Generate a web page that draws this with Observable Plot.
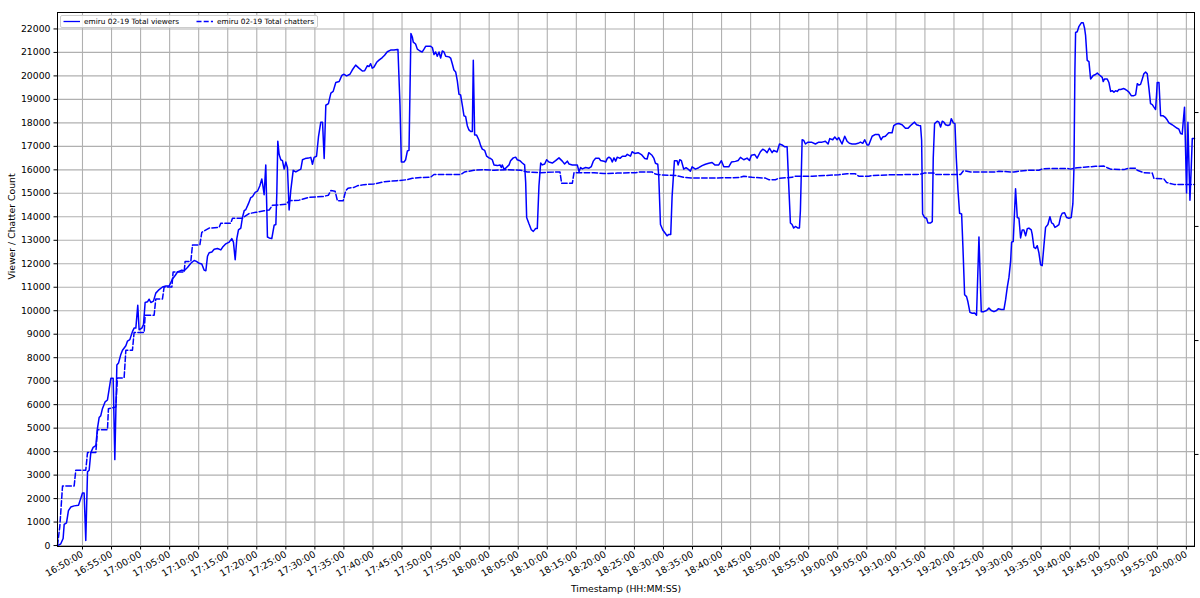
<!DOCTYPE html>
<html>
<head>
<meta charset="utf-8">
<script src="https://cdn.jsdelivr.net/npm/d3@7"></script>
<script src="https://cdn.jsdelivr.net/npm/@observablehq/plot@0.6"></script>
<style>
  html, body { margin: 0; padding: 0; background: #fff; }
  #wrap { position: relative; width: 1200px; height: 598px; overflow: hidden; font-family: "DejaVu Sans", sans-serif; }
  #legend { position: absolute; left: 60px; top: 15px; width: 258px; height: 13px; box-sizing: border-box;
            border: 1px solid #cccccc; border-radius: 2px; background: rgba(255,255,255,0.85);
            font-size: 7.35px; color: #000; }
  #legend .item { position: absolute; top: 0; height: 11px; line-height: 11px; white-space: nowrap; }
  #legend svg { position: absolute; top: 0; }
</style>
</head>
<body>
<div id="wrap">
  <div id="chart"></div>
  <div id="legend"></div>
</div>
<script>
// ---------- data ----------
const seriesNames = ["emiru 02-19 Total viewers", "emiru 02-19 Total chatters"];

const viewerTimes = [
"16:45:42","16:46:16","16:46:40","16:46:51","16:47:15","16:47:35","16:47:59","16:48:34","16:49:19","16:49:43",
"16:50:00","16:50:17","16:50:34","16:50:52","16:51:09","16:51:26","16:51:50","16:52:18","16:52:35","16:52:52",
"16:53:09","16:53:26","16:53:54","16:54:18","16:54:35","16:54:53","16:55:17","16:55:34","16:55:55","16:56:12",
"16:56:36","16:56:53","16:57:28","16:57:45","16:58:09","16:58:36","16:58:53","16:59:11","16:59:31","16:59:45",
"17:00:13","17:00:30","17:00:47","17:01:11","17:01:28","17:01:46","17:02:13","17:02:37","17:03:12","17:03:46",
"17:04:21","17:04:55","17:05:29","17:05:57","17:06:21","17:07:06","17:07:30","17:08:04","17:08:39","17:09:13",
"17:09:37","17:10:05","17:10:32","17:10:56","17:11:14","17:11:31","17:11:48","17:12:16","17:12:40","17:13:14",
"17:13:49","17:14:06","17:14:40","17:15:15","17:15:42","17:15:59","17:16:17","17:16:34","17:16:51","17:17:15",
"17:17:32","17:17:50","17:18:07","17:18:34","17:18:58","17:19:16","17:19:43","17:20:07","17:20:31","17:20:52",
"17:21:06","17:21:16","17:21:33","17:21:44","17:21:50","17:22:08","17:22:35","17:22:59","17:23:17","17:23:27",
"17:23:37","17:23:51","17:24:08","17:24:25","17:24:43","17:25:00","17:25:17","17:25:34","17:25:52","17:26:16",
"17:26:43","17:27:11","17:27:35","17:27:52","17:28:19","17:28:54","17:29:18","17:29:35","17:29:52","17:30:17",
"17:30:37","17:31:01","17:31:19","17:31:36","17:31:53","17:32:20","17:32:45","17:33:09","17:33:36","17:34:11",
"17:34:38","17:35:01","17:35:28","17:36:02","17:36:26","17:37:01","17:37:35","17:38:10","17:38:34","17:39:01",
"17:39:19","17:39:36","17:39:53","17:40:10","17:40:38","17:41:02","17:41:36","17:42:00","17:42:28","17:43:02",
"17:43:37","17:44:11","17:44:18","17:44:39","17:44:53","17:45:20","17:45:37","17:45:55","17:46:12","17:46:32",
"17:46:46","17:46:56","17:47:20","17:47:38","17:48:05","17:48:29","17:48:47","17:49:04","17:49:28","17:49:56",
"17:50:13","17:50:30","17:50:47","17:51:04","17:51:22","17:51:39","17:51:56","17:52:13","17:52:31","17:53:05",
"17:53:22","17:53:39","17:53:56","17:54:14","17:54:31","17:54:48","17:55:05","17:55:23","17:55:40","17:55:57",
"17:56:14","17:56:31","17:56:49","17:57:06","17:57:16","17:57:30","17:57:50","17:58:15","17:58:32","17:58:49",
"17:59:13","17:59:34","17:59:58","18:00:15","18:00:32","18:00:50","18:01:24","18:01:52","18:02:05","18:02:16",
"18:02:33","18:02:50","18:03:25","18:03:41","18:04:09","18:04:33","18:04:50","18:05:18","18:05:42","18:06:06",
"18:06:17","18:06:27","18:06:51","18:07:15","18:07:36","18:08:00","18:08:17","18:08:34","18:08:52","18:09:09",
"18:09:33","18:09:53","18:10:17","18:10:52","18:11:26","18:12:01","18:12:35","18:12:59","18:13:27","18:13:44",
"18:14:19","18:14:53","18:15:10","18:15:28","18:15:44","18:16:02","18:16:36","18:17:11","18:17:35","18:17:55",
"18:18:19","18:18:54","18:19:11","18:19:46","18:20:03","18:20:20","18:20:37","18:20:55","18:21:11","18:21:29",
"18:21:46","18:22:03","18:22:31","18:22:55","18:23:29","18:23:46","18:24:19","18:24:36","18:25:03","18:25:38",
"18:26:12","18:26:47","18:27:11","18:27:28","18:28:02","18:28:20","18:28:37","18:29:01","18:29:11","18:29:29",
"18:29:53","18:30:20","18:30:37","18:30:55","18:31:15","18:31:29","18:31:53","18:32:20","18:32:31","18:32:48",
"18:33:05","18:33:29","18:33:53","18:34:21","18:34:38","18:34:56","18:35:30","18:36:04","18:36:39","18:37:13",
"18:37:48","18:38:22","18:38:50","18:39:31","18:39:58","18:40:23","18:40:40","18:41:14","18:41:42","18:42:23",
"18:42:51","18:43:15","18:43:49","18:44:23","18:44:48","18:45:08","18:45:43","18:46:07","18:46:41","18:47:05",
"18:47:26","18:47:50","18:48:14","18:48:42","18:48:59","18:49:33","18:49:58","18:50:25","18:50:52","18:51:17",
"18:51:34","18:51:51","18:52:08","18:52:25","18:52:43","18:53:10","18:53:24","18:53:34","18:53:52","18:54:09",
"18:54:26","18:54:53","18:55:28","18:56:09","18:56:44","18:57:18","18:57:52","18:58:20","18:58:37","18:59:08",
"18:59:29","18:59:53","19:00:10","19:00:44","19:01:12","19:01:36","19:02:00","19:02:28","19:03:02","19:03:30",
"19:03:54","19:04:18","19:04:38","19:05:03","19:05:20","19:05:55","19:06:29","19:07:03","19:07:27","19:07:45",
"19:08:12","19:08:46","19:09:21","19:09:38","19:10:02","19:10:30","19:11:04","19:11:39","19:12:06","19:12:30",
"19:12:54","19:13:13","19:13:34","19:13:58","19:14:15","19:14:26","19:14:36","19:14:57","19:15:17","19:15:31",
"19:15:59","19:16:16","19:16:26","19:16:40","19:17:07","19:17:25","19:17:42","19:17:59","19:18:16","19:18:33",
"19:18:58","19:19:18","19:19:32","19:19:53","19:20:10","19:20:24","19:20:41","19:20:58","19:21:19","19:21:32",
"19:21:50","19:22:10","19:22:24","19:22:45","19:23:09","19:23:33","19:23:53","19:24:18","19:24:42","19:25:09",
"19:25:37","19:26:01","19:26:25","19:26:53","19:27:20","19:27:37","19:28:08","19:28:36","19:28:53","19:29:10",
"19:29:28","19:29:45","19:29:55","19:30:12","19:30:26","19:30:36","19:30:54","19:31:11","19:31:28","19:31:45",
"19:32:02","19:32:20","19:32:37","19:32:54","19:33:18","19:33:28","19:33:46","19:34:03","19:34:20","19:34:37",
"19:34:55","19:35:11","19:35:29","19:35:46","19:36:10","19:36:31","19:36:48","19:37:05","19:37:23","19:37:40",
"19:38:04","19:38:21","19:38:38","19:39:02","19:39:23","19:39:47","19:40:11","19:40:28","19:40:39","19:40:49",
"19:40:56","19:41:13","19:41:31","19:41:55","19:42:15","19:42:29","19:42:39","19:42:56","19:43:14","19:43:31",
"19:43:58","19:44:22","19:44:40","19:45:07","19:45:31","19:45:41","19:45:55","19:46:23","19:46:40","19:46:58",
"19:47:14","19:47:32","19:47:49","19:48:06","19:48:23","19:48:41","19:49:15","19:49:32","19:49:50","19:50:07",
"19:50:31","19:50:58","19:51:16","19:51:33","19:51:50","19:52:07","19:52:25","19:52:41","19:52:59","19:53:16",
"19:53:33","19:53:50","19:54:08","19:54:25","19:54:42","19:54:52","19:54:59","19:55:17","19:55:34","19:56:01",
"19:56:25","19:56:43","19:57:00","19:57:34","19:58:08","19:58:26","19:58:43","19:59:00","19:59:17","19:59:28",
"19:59:41","19:59:52","20:00:02","20:00:16","20:00:26","20:00:37","20:00:50","20:01:01","20:01:24"
];
const viewerValues = [
0,75,300,900,970,1490,1640,1690,1720,2020,
2240,2240,220,3140,3210,3960,4180,4260,5000,5450,
5530,5830,6120,6200,6650,7120,7120,3660,7690,7770,
8140,8320,8510,8710,8770,9110,9260,9260,10230,9190,
9260,9410,10350,10380,10490,10350,10410,10750,10900,11010,
11050,11050,11350,11500,11650,11730,11700,11840,12020,12140,
12100,12020,11990,11730,11700,12320,12470,12500,12620,12650,
12590,12700,12850,12920,13070,12920,12170,13070,13440,13520,
13970,14260,14310,14560,14820,14860,15040,15090,15310,15610,
15240,14940,16210,14260,13140,13100,13070,13640,13670,15010,
17220,16650,16430,16390,16030,16330,16090,14290,15160,15980,
15910,15980,16030,16430,16480,16500,16530,16240,16530,16580,
17400,18030,18030,16480,18750,18820,19270,19340,19720,19760,
20020,20070,20000,20070,20250,20460,20330,20210,20220,20430,
20400,20520,20330,20370,20580,20670,20780,20880,21030,21100,
21100,21120,21120,18760,16330,16330,16430,16800,16830,21810,
21660,21440,21360,21140,21060,21020,21140,21260,21260,21260,
21210,20910,21020,20840,21020,20760,21060,21020,20840,20810,
20760,20520,20250,20170,19790,19220,19190,18740,18300,18270,
17880,17700,17630,17630,20670,17480,17480,17260,17030,16880,
16830,16580,16510,16480,16430,16210,16180,16210,16100,16210,
16020,16070,16210,16390,16510,16540,16430,16390,16290,16210,
15460,13970,13700,13450,13380,13500,13500,15310,16290,16210,
16250,16430,16330,16290,16390,16510,16370,16250,16370,16250,
16210,16210,16210,15920,16100,16040,16100,16070,16140,16370,
16490,16490,16400,16370,16330,16490,16540,16490,16330,16510,
16370,16540,16490,16580,16580,16660,16580,16770,16700,16730,
16650,16480,16460,16730,16620,16500,16280,16240,15760,13670,
13440,13290,13190,13250,13250,14860,16390,16390,16210,16430,
16390,16030,16090,16010,15940,16130,16030,16090,16180,16240,
16280,16310,16210,16210,16390,16130,16130,16130,16330,16360,
16400,16530,16430,16500,16400,16620,16650,16500,16770,16880,
16830,16730,16920,16730,16830,16760,17100,17060,16980,16980,
15310,13740,13670,13520,13590,13520,13520,14260,17280,17250,
17100,17180,17180,17100,17180,17180,17220,17100,17330,17280,
17400,17280,17370,17100,17430,17220,17130,17100,17100,17130,
17180,17130,17280,17060,17060,17430,17510,17510,17280,17400,
17430,17580,17580,17880,17950,17970,17920,17770,17770,17880,
17970,18030,17920,17890,17880,17250,14120,13970,13940,13740,
13740,13790,16500,17970,18070,18030,17820,18070,18030,17920,
17890,17920,18180,18000,17970,16500,15160,14150,14120,12770,
10680,10600,10380,9930,9890,9900,9810,13140,9960,9960,
10010,10110,10010,9960,10010,10080,10050,10050,10460,10980,
11430,12100,12920,12950,14260,15190,13970,13940,13100,13440,
13440,13190,13490,13520,13440,13250,12700,12650,12770,12470,
11950,11920,12770,13550,13670,14000,13740,13700,13550,13590,
13670,14000,14150,14170,13970,13940,13970,14560,16060,20240,
21850,21880,22110,22260,22260,22030,21730,20660,20610,19870,
20020,20060,20120,20020,19940,19760,19870,19870,19720,19340,
19370,19310,19370,19340,19420,19420,19460,19420,19370,19310,
19160,19160,19190,19670,19610,19640,19870,20090,20160,20090,
19490,18820,18780,18670,18570,19190,19720,19720,18300,18300,
18220,18120,18000,17920,17820,17770,17730,17550,17520,18070,
18670,16800,15010,18030,16360,14710,16060,17330,17330
];

const chatterTimes = [
"16:45:42","16:46:06","16:46:34","16:48:34","16:48:51","16:50:34","16:50:52","16:52:18","16:52:35","16:54:18",
"16:54:28","16:55:44","16:56:01","16:57:10","16:57:28","16:58:36","16:58:53","17:00:37","17:00:47","17:02:20",
"17:02:37","17:03:46","17:04:03","17:05:23","17:05:36","17:07:30","17:07:40","17:08:39","17:08:56","17:10:12",
"17:10:32","17:11:48","17:13:31","17:13:49","17:15:32","17:15:49","17:17:32","17:17:50","17:18:41","17:19:50",
"17:21:16","17:22:08","17:22:42","17:25:00","17:25:34","17:27:17","17:29:01","17:31:19","17:32:20","17:32:45",
"17:33:29","17:33:53","17:34:52","17:35:18","17:35:42","17:36:44","17:37:18","17:38:27","17:40:10","17:41:54",
"17:44:11","17:45:55","17:46:46","17:48:12","17:49:56","17:50:30","17:53:22","17:55:05","17:55:47","17:57:23",
"17:59:06","18:00:50","18:03:07","18:05:25","18:06:34","18:08:52","18:11:44","18:12:11","18:12:28","18:14:19",
"18:14:36","18:15:44","18:18:02","18:19:46","18:22:03","18:25:10","18:26:02","18:28:02","18:28:37","18:29:11",
"18:32:04","18:33:29","18:34:56","18:37:48","18:42:58","18:43:49","18:45:15","18:47:33","18:48:07","18:49:16",
"18:49:51","18:52:08","18:52:43","18:55:35","18:57:52","19:00:10","19:01:36","19:03:02","19:03:37","19:05:20",
"19:05:55","19:09:21","19:12:32","19:13:41","19:14:32","19:14:50","19:16:33","19:16:50","19:21:08","19:21:36",
"19:22:00","19:22:52","19:25:09","19:27:10","19:27:44","19:29:45","19:30:19","19:31:28","19:32:37","19:34:37",
"19:35:11","19:36:38","19:39:30","19:40:04","19:41:13","19:42:22","19:44:22","19:45:49","19:46:23","19:46:58",
"19:49:15","19:50:07","19:51:16","19:51:33","19:52:41","19:54:08","19:54:25","19:56:08","19:56:36","19:57:51",
"19:59:35","20:01:24"
];
const chatterValues = [
0,820,2540,2540,3210,3210,3960,3960,4930,4930,
5830,5900,7140,7140,8320,8320,9070,9070,9810,9810,
10500,10500,11010,11010,11650,11650,12100,12100,12800,12800,
13340,13520,13550,13730,13730,13940,13940,14000,14140,14190,
14260,14290,14490,14530,14680,14710,14830,14860,14920,15120,
15090,14680,14680,15100,15220,15250,15320,15370,15400,15490,
15540,15580,15640,15670,15690,15800,15800,15800,15910,15980,
16010,15980,16010,15980,15910,15880,15910,15910,15430,15430,
15880,15880,15880,15840,15860,15880,15910,15910,15820,15790,
15760,15680,15650,15650,15670,15730,15680,15650,15580,15580,
15640,15680,15730,15730,15760,15790,15830,15830,15730,15730,
15760,15790,15800,15800,15830,15860,15860,15800,15800,15950,
15950,15910,15910,15910,15940,15910,15910,15950,15980,15980,
16040,16060,16060,16030,16090,16110,16150,16160,16090,16030,
16010,16070,16070,15980,15880,15860,15640,15610,15460,15380,
15380,15380
];

// axis ticks / domain
const xTickTimes = d3.range(0, 39).map(i => {
  const m = 16 * 60 + 50 + i * 5;
  return `${String(Math.floor(m / 60)).padStart(2, "0")}:${String(m % 60).padStart(2, "0")}:00`;
});
const yTicks = d3.range(0, 22001, 1000);
const xDomainTimes = ["16:45:42", "20:01:24"];
const yDomain = [-40, 22700];
const rightTicks = [18440, 13590, 8730, 3880];   // unlabelled ticks of the secondary (right) axis
const xLabel = "Timestamp (HH:MM:SS)";
const yLabel = "Viewer / Chatter Count";

// ---------- build ----------
const parse = s => new Date(`2024-02-19T${s}Z`);
const viewers = viewerTimes.map((t, i) => ({time: parse(t), value: viewerValues[i]}));
const chatters = chatterTimes.map((t, i) => ({time: parse(t), value: chatterValues[i]}));
const xTicks = xTickTimes.map(parse);
const fmt = d3.utcFormat("%H:%M:%S");
const blue = "#0000ff";
const gridColor = "#b0b0b0";

const chart = Plot.plot({
  width: 1200,
  height: 598,
  marginLeft: 57,
  marginRight: 6,
  marginTop: 12,
  marginBottom: 52,
  style: {fontFamily: "DejaVu Sans, sans-serif", fontSize: "9.3px", background: "white", color: "#000", overflow: "visible"},
  x: {type: "utc", domain: xDomainTimes.map(parse)},
  y: {domain: yDomain},
  marks: [
    Plot.gridX(xTicks, {stroke: gridColor, strokeOpacity: 1, strokeWidth: 1.1}),
    Plot.gridY(yTicks, {stroke: gridColor, strokeOpacity: 1, strokeWidth: 1.1}),
    Plot.line(viewers, {x: "time", y: "value", stroke: blue, strokeWidth: 1.5, strokeLinejoin: "round"}),
    Plot.line(chatters, {x: "time", y: "value", stroke: blue, strokeWidth: 1.5, strokeDasharray: "5.5,2.4"}),
    Plot.axisY(yTicks, {anchor: "left", tickSize: 3.5, tickPadding: 3.5, tickFormat: d => String(d), label: null, stroke: "#000"}),
    Plot.axisY(rightTicks, {anchor: "right", tickSize: 3.5, tickFormat: () => "", label: null, stroke: "#000"}),
    Plot.axisX(xTicks, {anchor: "bottom", tickSize: 3.5, tickPadding: 3.5, tickRotate: -30, tickFormat: fmt, label: null, stroke: "#000"}),
    Plot.frame({stroke: "#000", strokeWidth: 1}),
    Plot.text([yLabel], {frameAnchor: "left", dx: -45, rotate: -90, fontSize: 9.3}),
    Plot.text([xLabel], {frameAnchor: "bottom", dy: 45, fontSize: 9.3})
  ]
});
document.getElementById("chart").appendChild(chart);

// legend (HTML overlay)
const legend = document.getElementById("legend");
const items = [
  {name: seriesNames[0], dash: null, sx: 2, tx: 23},
  {name: seriesNames[1], dash: "5,2.2", sx: 135, tx: 156}
];
for (const it of items) {
  const svg = d3.create("svg").attr("width", 18).attr("height", 11).style("left", it.sx + "px");
  svg.append("line").attr("x1", 0.5).attr("x2", 17).attr("y1", 5.5).attr("y2", 5.5)
    .attr("stroke", blue).attr("stroke-width", 1.3).attr("stroke-dasharray", it.dash);
  legend.appendChild(svg.node());
  const span = document.createElement("span");
  span.className = "item";
  span.style.left = it.tx + "px";
  span.textContent = it.name;
  legend.appendChild(span);
}
</script>
</body>
</html>
